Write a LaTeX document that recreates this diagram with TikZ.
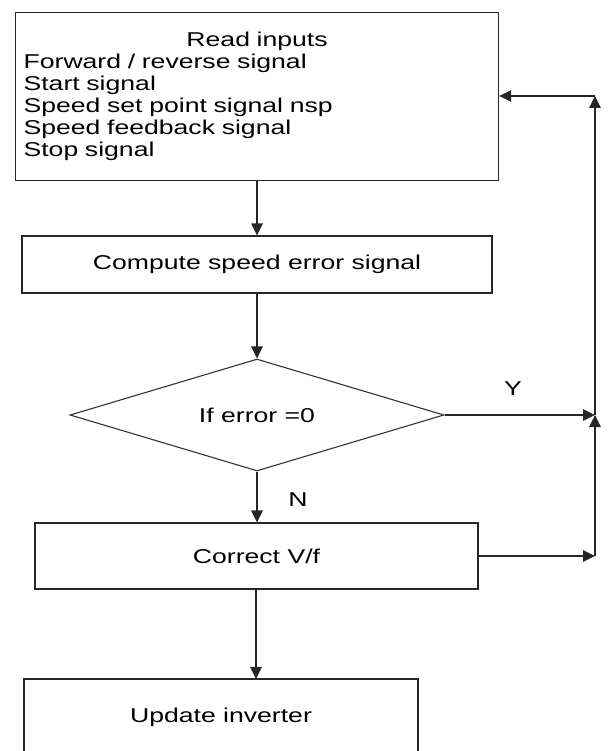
\documentclass[tikz,border=0pt]{standalone}
\usepackage{fontspec}
\setmainfont{Liberation Sans}[FakeStretch=1.33]
\usetikzlibrary{arrows.meta,shapes.geometric}
\begin{document}
\begin{tikzpicture}[x=1pt,y=-1pt,
  every node/.style={font=\fontsize{20}{22}\selectfont},
  flowbox/.style={draw=black!85,line width=1.2pt,rectangle,inner sep=0pt},
  decision/.style={draw=black!80,line width=1.1pt,diamond,inner sep=0pt,aspect=3.34,minimum width=374pt,minimum height=112pt},
  arr/.style={draw=black!85,line width=1.3pt,-{Triangle[length=12pt,width=11.5pt]}},
  lbl/.style={inner sep=0pt}]
\useasboundingbox (0,0) rectangle (607,751);
\node[flowbox,anchor=north west,minimum width=483pt,minimum height=168pt,text width=467pt,inner xsep=8pt,align=left] (read) at (15,12)
  {\makebox[\linewidth][c]{Read inputs}\\Forward / reverse signal\\Start signal\\Speed set point signal nsp\\Speed feedback signal\\Stop signal};
\node[flowbox,minimum width=470pt,minimum height=57pt] (comp) at (257,264.5) {Compute speed error signal};
\node[decision] (dec) at (257,415) {If error =0};
\node[flowbox,minimum width=443pt,minimum height=66pt] (corr) at (256.5,556) {Correct V/f};
\node[flowbox,minimum width=394pt,minimum height=76pt] (upd) at (221,717) {Update inverter};
\node[lbl] (ylab) at (513,389) {Y};
\node[lbl] (nlab) at (298,500) {N};
\coordinate (c1) at (595,556);
\coordinate (c2) at (595,415);
\coordinate (c3) at (595,96);
\coordinate (a5) at (256,679);
\draw[arr] (read.south -| comp.north) -- (comp.north);
\draw[arr] (comp.south) -- (dec.north);
\draw[arr] (dec.south) -- (corr.north -| dec.south);
\draw[arr] (corr.south -| a5) -- (a5);
\draw[arr] (dec.east) -- (c2);
\draw[arr] (corr.east) -- (c1);
\draw[arr] (c1) -- (c2);
\draw[arr] (c2) -- (c3);
\draw[arr] (c3) -- (c3 -| read.east);
\end{tikzpicture}
\end{document}
